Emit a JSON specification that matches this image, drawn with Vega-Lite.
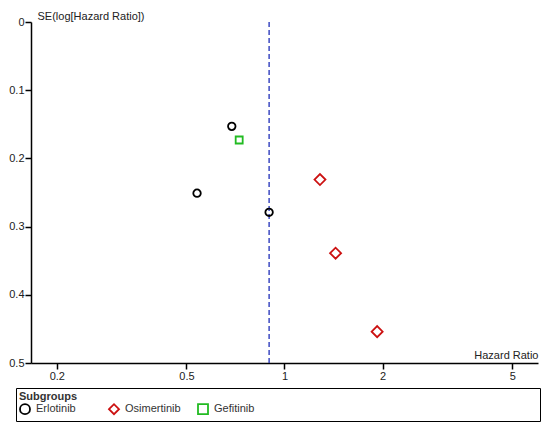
{
  "$schema": "https://vega.github.io/schema/vega-lite/v6.json",
  "width": 507,
  "height": 341,
  "autosize": {"type": "none"},
  "padding": {"left": 31, "top": 22, "right": 12, "bottom": 73},
  "config": {
    "view": {"stroke": null},
    "font": "Liberation Sans",
    "axis": {
      "grid": false,
      "domainColor": "black",
      "domainWidth": 1.5,
      "tickColor": "black",
      "tickWidth": 1.5,
      "tickSize": 6,
      "labelFontSize": 11,
      "labelColor": "#222",
      "titleFontSize": 11,
      "titleFontWeight": "normal",
      "titleColor": "#222"
    }
  },
  "encoding": {
    "x": {
      "field": "hr",
      "type": "quantitative",
      "scale": {"type": "log", "domain": [0.1667, 6], "nice": false},
      "axis": {
        "values": [0.2, 0.5, 1, 2, 5],
        "format": "~g",
        "title": "Hazard Ratio",
        "titleX": 507,
        "titleY": -8,
        "titleAlign": "right",
        "titleBaseline": "middle",
        "labelPadding": 1
      }
    }
  },
  "layer": [
    {
      "data": {"values": [{"hr": 0.897}]},
      "mark": {"type": "rule", "color": "#1f2fb8", "strokeDash": [5, 3], "strokeWidth": 1.3},
      "encoding": {}
    },
    {
      "data": {
        "values": [
          {"subgroup": "Erlotinib", "hr": 0.689, "se": 0.153},
          {"subgroup": "Erlotinib", "hr": 0.539, "se": 0.251},
          {"subgroup": "Erlotinib", "hr": 0.897, "se": 0.279},
          {"subgroup": "Gefitinib", "hr": 0.726, "se": 0.173},
          {"subgroup": "Osimertinib", "hr": 1.285, "se": 0.231},
          {"subgroup": "Osimertinib", "hr": 1.435, "se": 0.339},
          {"subgroup": "Osimertinib", "hr": 1.925, "se": 0.454}
        ]
      },
      "mark": {"type": "point", "filled": false, "strokeWidth": 1.8, "opacity": 1},
      "encoding": {
        "y": {
          "field": "se",
          "type": "quantitative",
          "scale": {"domain": [0, 0.5], "reverse": true, "nice": false},
          "axis": {
            "values": [0, 0.1, 0.2, 0.3, 0.4, 0.5],
            "format": "~g",
            "title": "SE(log[Hazard Ratio])",
            "titleAngle": 0,
            "titleX": 6,
            "titleY": -6,
            "titleAlign": "left",
            "titleBaseline": "middle",
            "labelPadding": 1
          }
        },
        "color": {
          "field": "subgroup",
          "type": "nominal",
          "scale": {
            "domain": ["Erlotinib", "Osimertinib", "Gefitinib", " ", "  ", "\u2800\u2800\u2800\u2800\u2800\u2800\u2800"],
            "range": ["black", "#cc1111", "#22bb22", "transparent", "transparent", "transparent"]
          },
          "legend": {
            "title": "Subgroups",
            "orient": "none",
            "legendX": -15,
            "legendY": 366,
            "direction": "horizontal",
            "strokeColor": "black",
            "padding": 3,
            "gridAlign": "all",
            "columnPadding": 13,
            "titlePadding": 1,
            "titleFontSize": 11,
            "titleFontWeight": "bold",
            "titleColor": "#333",
            "labelFontSize": 11,
            "labelColor": "#333",
            "labelOffset": 5,
            "symbolSize": 100,
            "symbolStrokeWidth": 1.8
          }
        },
        "shape": {
          "field": "subgroup",
          "type": "nominal",
          "scale": {
            "domain": ["Erlotinib", "Osimertinib", "Gefitinib", " ", "  ", "\u2800\u2800\u2800\u2800\u2800\u2800\u2800"],
            "range": ["circle", "diamond", "square", "circle", "circle", "circle"]
          }
        },
        "size": {
          "condition": [
            {"test": "datum.subgroup === 'Osimertinib'", "value": 121},
            {"test": "datum.subgroup === 'Gefitinib'", "value": 49}
          ],
          "value": 56
        }
      }
    }
  ]
}
